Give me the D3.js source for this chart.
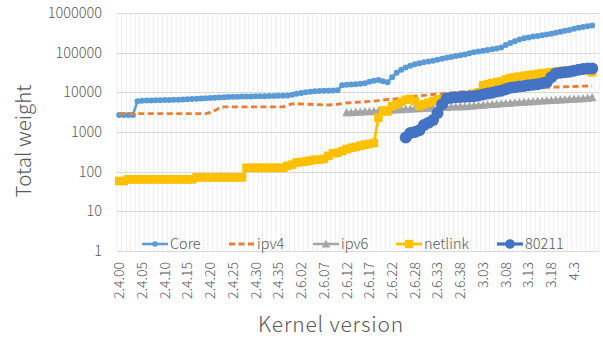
<!DOCTYPE html>
<html>
<head>
<meta charset="utf-8">
<script src="https://cdn.jsdelivr.net/npm/d3@7"></script>
<style>
  html, body { margin: 0; padding: 0; background: #ffffff; }
  svg { display: block; }
  text { font-family: "Noto Sans CJK JP", "Noto Sans", sans-serif; fill: #595959; font-weight: 300; }
</style>
</head>
<body>
<svg id="chart" width="603" height="341"></svg>
<script>
// Kernel versions along the x axis
const categories = [
  "2.4.00","2.4.01","2.4.02","2.4.03","2.4.04","2.4.05","2.4.06","2.4.07","2.4.08","2.4.09",
  "2.4.10","2.4.11","2.4.12","2.4.13","2.4.14","2.4.15","2.4.16","2.4.17","2.4.18","2.4.19",
  "2.4.20","2.4.21","2.4.22","2.4.23","2.4.24","2.4.25","2.4.26","2.4.27","2.4.28","2.4.29",
  "2.4.30","2.4.31","2.4.32","2.4.33","2.4.34","2.4.35","2.4.36","2.4.37",
  "2.6.00","2.6.01","2.6.02","2.6.03","2.6.04","2.6.05","2.6.06","2.6.07","2.6.08","2.6.09",
  "2.6.10","2.6.11","2.6.12","2.6.13","2.6.14","2.6.15","2.6.16","2.6.17","2.6.18","2.6.19",
  "2.6.20","2.6.21","2.6.22","2.6.24","2.6.25","2.6.26","2.6.27","2.6.28","2.6.29","2.6.30",
  "2.6.31","2.6.32","2.6.33","2.6.34","2.6.35","2.6.36","2.6.37","2.6.38","2.6.39",
  "3.00","3.01","3.02","3.03","3.04","3.05","3.06","3.07","3.08","3.09",
  "3.10","3.11","3.12","3.13","3.14","3.15","3.16","3.17","3.18","3.19",
  "4.0","4.1","4.2","4.3","4.4","4.5","4.6","4.7","4.8"
];

// Every fifth version gets a label
const tickLabels = [
  "2.4.00","2.4.05","2.4.10","2.4.15","2.4.20","2.4.25","2.4.30","2.4.35",
  "2.6.02","2.6.07","2.6.12","2.6.17","2.6.22","2.6.28","2.6.33","2.6.38",
  "3.03","3.08","3.13","3.18","4.3"
];

const yTicks = [1, 10, 100, 1000, 10000, 100000, 1000000];

const seriesNames = ["Core", "ipv4", "ipv6", "netlink", "80211"];

const core = [
  2700,2700,2700,2700,
  6000,6100,6200,6200,6300,6300,6400,
  6400,6500,6500,6600,6700,6800,6900,7000,7100,7200,
  7300,7400,7500,7600,7700,7700,7800,7900,7900,8000,
  8000,8000,8100,8100,8200,8200,8300,
  8700,9200,9600,10000,10300,10600,10800,11000,11000,11100,11300,
  15000,15500,15800,16000,16500,17000,
  18500,19500,20500,19000,18000,
  24000,31000,37000,42000,47000,51000,54000,57000,60000,63000,
  66000,70000,74000,78000,82000,86000,90000,97000,103000,107000,
  112000,117000,122000,128000,135000,155000,175000,195000,215000,230000,
  242000,254000,265000,276000,288000,300000,318000,336000,355000,375000,
  400000,425000,445000,465000,485000,
  null
];

const ipv4 = [
  2900,2900,2900,2900,2900,2900,2900,2900,2900,2900,
  2900,2900,2900,2900,2900,2900,2900,2900,2900,2900,
  3100,3500,4000,4300,
  4300,4300,4300,4300,4300,4300,4300,4300,4300,4300,4300,4300,4300,
  4700,5100,5200,
  5100,5000,5000,4900,4900,4800,4800,4900,
  5000,5200,5400,
  5500,5600,5700,5800,5900,6000,6200,6400,6600,6800,
  6900,7100,7400,7700,8000,8200,8400,8600,8800,9000,
  9200,9500,9700,10000,10200,10400,10700,10900,11100,11300,
  11500,11700,11900,12100,12300,12500,12600,12800,12900,13000,
  13100,13200,13300,13400,13500,13600,13700,13800,13900,14000,
  14100,14300,14400,14500,
  null
];

const ipv6 = [
  null,null,null,null,null,null,null,null,null,null,
  null,null,null,null,null,null,null,null,null,null,
  null,null,null,null,null,null,null,null,null,null,
  null,null,null,null,null,null,null,null,null,null,
  null,null,null,null,null,null,null,null,null,null,
  3100,3100,3200,3200,3300,3300,3400,3400,3500,3500,
  3600,3700,3700,3800,3800,3900,3900,4000,4000,4100,
  4100,4200,4200,4300,4300,4400,4400,4500,4600,4700,
  4800,4900,5000,5100,5200,5300,5400,5500,5600,5700,
  5800,5900,6000,6100,6200,6300,6400,6500,6600,6700,
  6800,6900,7000,7200,7400,
  null
];

const netlink = [
  58,58,
  64,64,64,64,64,64,64,64,64,64,64,64,64,64,64,
  72,72,72,72,72,72,72,72,72,72,72,
  125,125,125,125,125,125,125,125,125,
  140,150,170,175,180,190,200,200,210,
  250,290,300,330,370,400,420,450,480,500,530,
  2300,3500,3300,4500,5000,5800,6500,6800,
  6000,4500,5000,5500,6000,6500,6800,7000,7200,7500,7800,8000,8500,9000,10000,
  15000,16000,17000,18000,19000,21000,23000,24000,25000,26000,
  27000,28000,29000,30000,31000,32000,33000,34000,35000,36000,
  37000,38000,39000,36000,32000,
  null
];

const wlan80211 = [
  null,null,null,null,null,null,null,null,null,null,
  null,null,null,null,null,null,null,null,null,null,
  null,null,null,null,null,null,null,null,null,null,
  null,null,null,null,null,null,null,null,null,null,
  null,null,null,null,null,null,null,null,null,null,
  null,null,null,null,null,null,null,null,null,null,
  null,null,null,
  730,950,1000,1100,1500,1700,2000,3000,5000,7000,
  7300,7500,7600,7700,7800,8000,8300,8800,9300,9800,
  10500,11000,12000,13000,13500,14000,14500,15000,15500,16000,
  17000,18000,24000,30000,31000,32000,33000,35000,37000,39000,
  40000,40000,
  null
];

const seriesValues = [core, ipv4, ipv6, netlink, wlan80211];

// ---- layout ----
const plot = { left: 117, right: 599, top: 13, bottom: 251 };

const styles = {
  "Core":    { color: "#5B9BD5", width: 2.5,  dash: null,    marker: "circle",   size: 3.0, legendSize: 2.8 },
  "ipv4":    { color: "#ED7D31", width: 2.9,  dash: "6,3.5", marker: null,       size: 0,   legendSize: 0 },
  "ipv6":    { color: "#A5A5A5", width: 2.5,  dash: null,    marker: "triangle", size: 4.4, legendSize: 4.2 },
  "netlink": { color: "#FFC000", width: 2.9,  dash: null,    marker: "square",   size: 4.3, legendSize: 4.2 },
  "80211":   { color: "#4472C4", width: 3.2,  dash: null,    marker: "circle",   size: 6.0, legendSize: 4.8 }
};

const svg = d3.select("#chart");

const x = d3.scaleBand().domain(categories).range([plot.left, plot.right]).paddingInner(0).paddingOuter(0);
const y = d3.scaleLog().domain([1, 1000000]).range([plot.bottom, plot.top]);
const cx = c => x(c) + x.bandwidth() / 2;

// vertical gridlines, one per category boundary
const gGrid = svg.append("g");
gGrid.selectAll("line.v")
  .data(categories.concat(["__end"]))
  .join("line")
  .attr("x1", (d, i) => plot.left + i * x.bandwidth())
  .attr("x2", (d, i) => plot.left + i * x.bandwidth())
  .attr("y1", plot.top).attr("y2", plot.bottom)
  .attr("stroke", "#E8E8E8").attr("stroke-width", 0.8);

// horizontal gridlines at each decade
gGrid.selectAll("line.h")
  .data(yTicks)
  .join("line")
  .attr("x1", plot.left).attr("x2", plot.right)
  .attr("y1", d => Math.round(y(d)) + 0.5).attr("y2", d => Math.round(y(d)) + 0.5)
  .attr("stroke", "#D9D9D9").attr("stroke-width", 1);

// y axis labels
const yAxis = d3.axisLeft(y).tickValues(yTicks).tickFormat(d3.format("d")).tickSize(0).tickPadding(0);
const gy = svg.append("g").attr("transform", `translate(${plot.left - 15},0)`).call(yAxis);
gy.select(".domain").remove();
gy.selectAll("text")
  .attr("font-size", "14.5px")
  .attr("fill", "#6b6b6b")
  .style("font-weight", 300)
  .style("font-family", "'Noto Sans CJK JP', 'Noto Sans', sans-serif");

// x axis labels (rotated)
const xAxis = d3.axisBottom(x).tickValues(tickLabels).tickSize(0).tickPadding(0);
const gx = svg.append("g").attr("transform", `translate(0,${plot.bottom})`).call(xAxis);
gx.select(".domain").remove();
gx.selectAll("text")
  .attr("font-size", "14px")
  .attr("fill", "#6b6b6b")
  .style("font-weight", 300)
  .style("font-family", "'Noto Sans CJK JP', 'Noto Sans', sans-serif")
  .attr("text-anchor", "end")
  .attr("transform", "rotate(-90)")
  .attr("x", -11)
  .attr("y", 0)
  .attr("dy", "0.35em");

// axis titles
svg.append("text")
  .attr("transform", "translate(31,141) rotate(-90)")
  .attr("text-anchor", "middle")
  .attr("font-size", "20.5px")
  .text("Total weight");

svg.append("text")
  .attr("x", 331).attr("y", 332)
  .attr("text-anchor", "middle")
  .attr("font-size", "21px")
  .attr("letter-spacing", "0.8px")
  .text("Kernel version");

// marker drawing helper
function drawMarker(sel, kind, size, color) {
  if (kind === "circle") {
    sel.append("circle").attr("r", size).attr("fill", color);
  } else if (kind === "square") {
    sel.append("rect").attr("x", -size).attr("y", -size)
      .attr("width", size * 2).attr("height", size * 2).attr("fill", color);
  } else if (kind === "triangle") {
    sel.append("path")
      .attr("d", `M0,${-size}L${size},${size * 0.85}L${-size},${size * 0.85}Z`)
      .attr("fill", color);
  }
}

// series lines and markers
const line = d3.line()
  .defined(d => d.v != null)
  .x(d => cx(d.c))
  .y(d => y(d.v));

const gSeries = svg.append("g");
seriesNames.forEach((name, si) => {
  const st = styles[name];
  const pts = categories.map((c, i) => ({ c, v: seriesValues[si][i] }));
  const g = gSeries.append("g");
  g.append("path")
    .datum(pts)
    .attr("d", line)
    .attr("fill", "none")
    .attr("stroke", st.color)
    .attr("stroke-width", st.width)
    .attr("stroke-linejoin", "round")
    .attr("stroke-dasharray", st.dash);
  if (st.marker) {
    g.selectAll("g.m")
      .data(pts.filter(d => d.v != null))
      .join("g")
      .attr("transform", d => `translate(${cx(d.c)},${y(d.v)})`)
      .each(function () { drawMarker(d3.select(this), st.marker, st.size, st.color); });
  }
});

// legend inside the plot, along the bottom
const legendX = [142, 229, 313, 396, 497];
const legendY = 244;
const gLegend = svg.append("g");
seriesNames.forEach((name, i) => {
  const st = styles[name];
  const g = gLegend.append("g").attr("transform", `translate(${legendX[i]},${legendY})`);
  g.append("line")
    .attr("x1", 0).attr("x2", 26).attr("y1", 0).attr("y2", 0)
    .attr("stroke", st.color).attr("stroke-width", st.width)
    .attr("stroke-dasharray", st.dash);
  if (st.marker) {
    const m = g.append("g").attr("transform", "translate(13,0)");
    drawMarker(m, st.marker, st.legendSize, st.color);
  }
  g.append("text")
    .attr("x", 28).attr("y", 0).attr("dy", "0.36em")
    .attr("font-size", "14.5px")
    .attr("fill", "#6b6b6b")
    .text(name);
});
</script>
</body>
</html>
